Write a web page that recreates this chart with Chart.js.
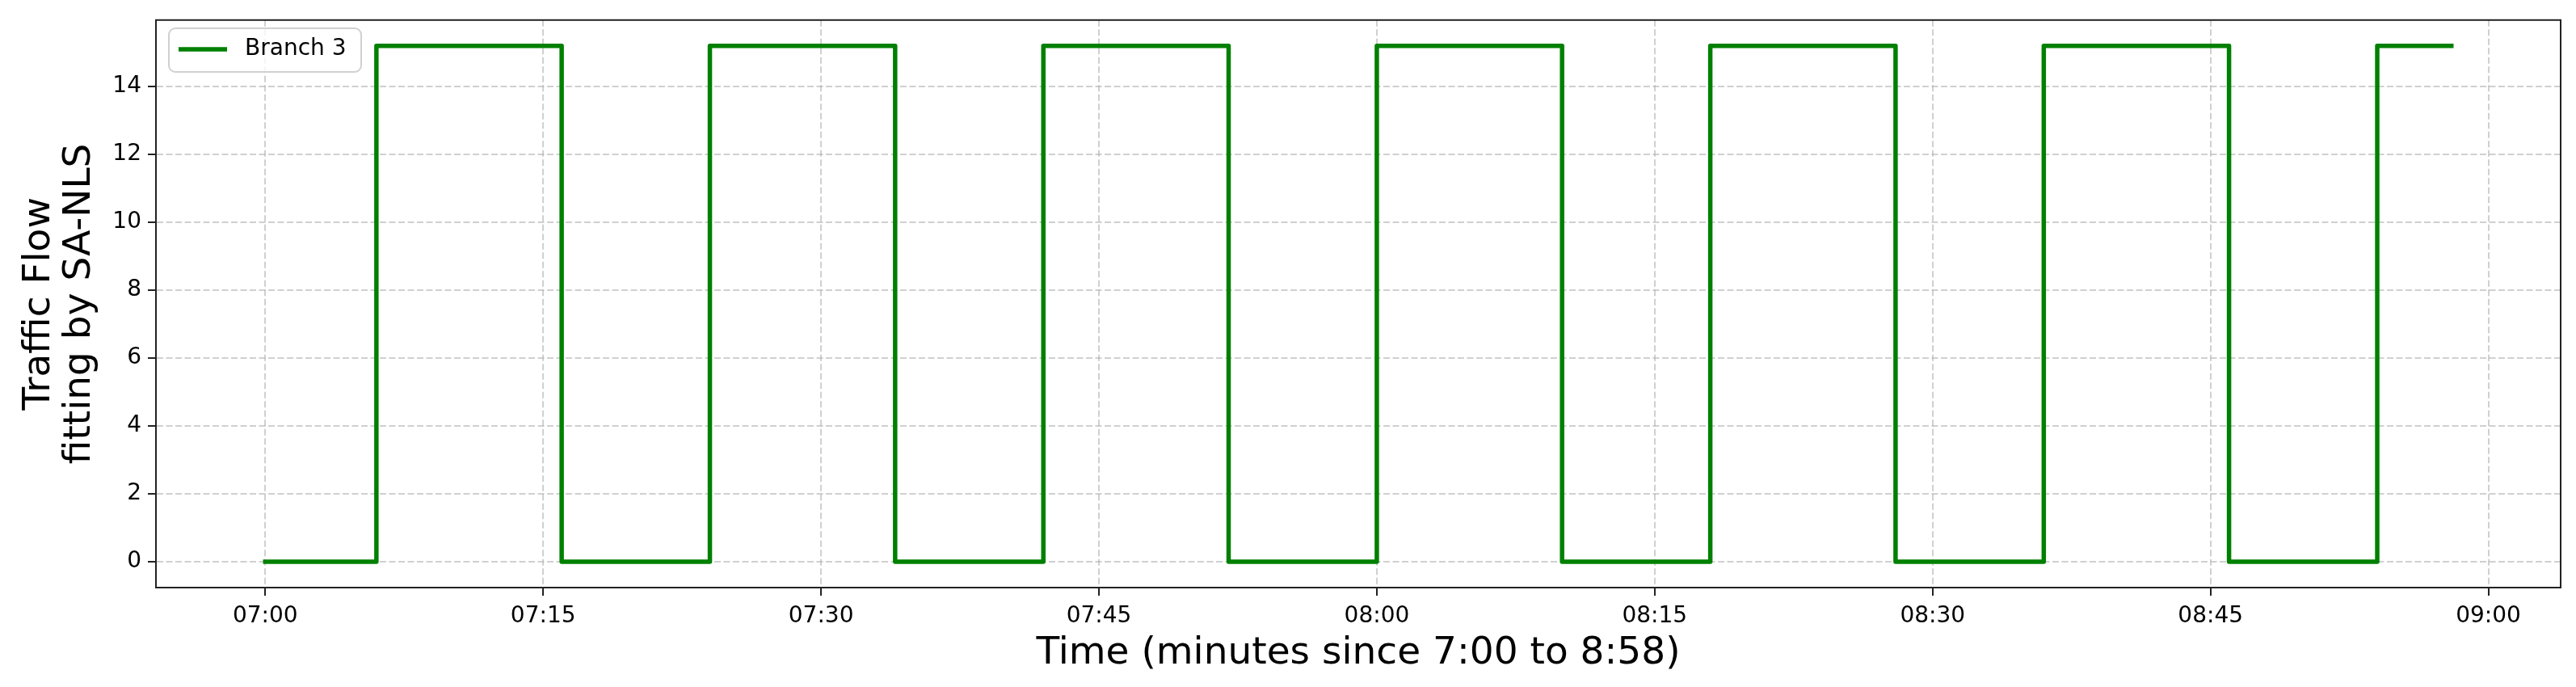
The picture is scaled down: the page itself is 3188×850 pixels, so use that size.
<!DOCTYPE html>
<html>
<head>
<meta charset="utf-8">
<script src="https://cdn.jsdelivr.net/npm/chart.js@4.4.1/dist/chart.umd.min.js"></script>
<style>
  html, body { margin: 0; padding: 0; background: #fff; }
  canvas { display: block; }
</style>
</head>
<body>
<canvas id="flowChart" width="3188" height="850"></canvas>
<script>
// minutes since 7:00 where the fitted flow changes level
const minutes = [0, 6, 16, 24, 34, 42, 52, 60, 70, 78, 88, 96, 106, 114, 118];
// level held from each breakpoint on
const flow = [0, 15.19, 0, 15.19, 0, 15.19, 0, 15.19, 0, 15.19, 0, 15.19, 0, 15.19, 15.19];

const tickMinutes = [0, 15, 30, 45, 60, 75, 90, 105, 120];
const tickLabels = ['07:00', '07:15', '07:30', '07:45', '08:00', '08:15', '08:30', '08:45', '09:00'];

const seriesLabel = 'Branch 3';
const xTitle = 'Time (minutes since 7:00 to 8:58)';
const yTitle = ['Traffic Flow', 'fitting by SA-NLS'];

const FONT = "'DejaVu Sans', sans-serif";
const GRID = 'rgba(176,176,176,0.6)';

// full box around the plot (Chart.js only draws left/bottom)
const frame = {
    id: 'frame',
    afterDraw(chart) {
        const { ctx, chartArea: a } = chart;
        ctx.save();
        ctx.strokeStyle = '#222';
        ctx.lineWidth = 2;
        ctx.strokeRect(a.left, a.top, a.right - a.left, a.bottom - a.top);
        ctx.restore();
    }
};

// matplotlib-style legend box in the upper left of the plot
const innerLegend = {
    id: 'innerLegend',
    afterDraw(chart) {
        const ctx = chart.ctx;
        const ds = chart.data.datasets[0];
        const x = 209, y = 35, w = 238, h = 54, r = 8;
        ctx.save();
        ctx.beginPath();
        ctx.roundRect(x, y, w, h, r);
        ctx.fillStyle = 'rgba(255,255,255,0.8)';
        ctx.fill();
        ctx.strokeStyle = '#d0d0d0';
        ctx.lineWidth = 2;
        ctx.stroke();
        ctx.beginPath();
        ctx.moveTo(221, 61);
        ctx.lineTo(281, 61);
        ctx.strokeStyle = ds.borderColor;
        ctx.lineWidth = ds.borderWidth;
        ctx.lineCap = 'butt';
        ctx.stroke();
        ctx.fillStyle = '#000';
        ctx.font = '28px ' + FONT;
        ctx.textBaseline = 'middle';
        ctx.fillText(ds.label, 303, 61);
        ctx.restore();
    }
};

const ctx = document.getElementById('flowChart').getContext('2d');
new Chart(ctx, {
    type: 'line',
    data: {
        datasets: [{
            label: seriesLabel,
            data: minutes.map((m, i) => ({ x: m, y: flow[i] })),
            borderColor: '#008000',
            borderWidth: 5.5,
            borderCapStyle: 'square',
            borderJoinStyle: 'round',
            stepped: true,
            pointRadius: 0,
            fill: false
        }]
    },
    options: {
        responsive: false,
        animation: false,
        devicePixelRatio: 1,
        layout: { padding: { left: 0, right: 19, top: 21, bottom: 0 } },
        plugins: {
            legend: { display: false },
            tooltip: { enabled: false }
        },
        scales: {
            x: {
                type: 'linear',
                min: -5.9,
                max: 123.9,
                afterBuildTicks: scale => {
                    scale.ticks = tickMinutes.map(v => ({ value: v }));
                },
                afterFit: scale => { scale.height = 123; },
                ticks: {
                    autoSkip: false,
                    maxRotation: 0,
                    padding: 9,
                    color: '#000',
                    font: { family: FONT, size: 28 },
                    callback: (v) => tickLabels[tickMinutes.indexOf(v)]
                },
                grid: {
                    color: GRID,
                    lineWidth: 2,
                    tickLength: 10,
                    tickColor: '#222',
                    tickWidth: 2,
                    tickBorderDash: []
                },
                border: { display: true, color: '#222', width: 2, dash: [8, 3.5] },
                title: {
                    display: true,
                    text: xTitle,
                    color: '#000',
                    font: { family: FONT, size: 47 },
                    padding: { top: 0, bottom: 13 }
                }
            },
            y: {
                min: -0.76,
                max: 15.95,
                afterFit: scale => { scale.width = 193; },
                ticks: {
                    stepSize: 2,
                    includeBounds: false,
                    padding: 8,
                    color: '#000',
                    font: { family: FONT, size: 28 }
                },
                grid: {
                    color: GRID,
                    lineWidth: 2,
                    tickLength: 10,
                    tickColor: '#222',
                    tickWidth: 2,
                    tickBorderDash: []
                },
                border: { display: true, color: '#222', width: 2, dash: [8, 3.5] },
                title: {
                    display: true,
                    text: yTitle,
                    color: '#000',
                    font: { family: FONT, size: 47, lineHeight: 1.064 },
                    padding: { top: 24, bottom: 0 }
                }
            }
        }
    },
    plugins: [frame, innerLegend]
});
</script>
</body>
</html>
